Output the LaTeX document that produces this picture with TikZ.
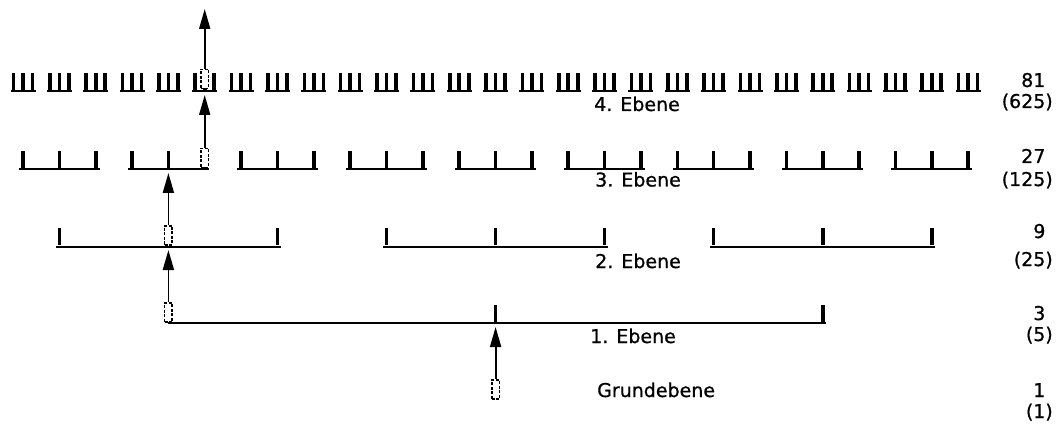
\documentclass[tikz,border=0pt]{standalone}
\usepackage{fontspec}
\setmainfont{DejaVu Sans}
\newfontfamily\scanfont{DejaVu Sans}[FakeBold=0.8]
\usetikzlibrary{arrows.meta,positioning}

\begin{document}
\begin{tikzpicture}[x=1pt,y=-1pt,
  tick/.style={line width=3.6pt},
  base/.style={line width=2pt},
  hit/.style={draw,fill=white,dash pattern=on 3pt off 1.5pt,line width=1.6pt,minimum width=7.5pt,minimum height=19pt,inner sep=0pt},
  up/.style={-{Triangle[length=20pt,width=11pt]},line width=1.8pt},
  lab/.style={font=\scanfont\fontsize{19}{21}\selectfont,anchor=base west,inner sep=0pt},
  num/.style={font=\scanfont\fontsize{19}{21}\selectfont,anchor=base east,inner sep=0pt}]
\useasboundingbox (0,0) rectangle (1059,430);
% 4. Ebene
\foreach \k in {0,...,26}{
  \pgfmathsetmacro\cx{23+36.35*\k}
  \draw[tick] (\cx-9.5,73) -- (\cx-9.5,90) (\cx,73) -- (\cx,90) (\cx+9.5,73) -- (\cx+9.5,90);
  \draw[base] (\cx-12.5,91.5) -- (\cx+12.5,91.5);
}
% 3. Ebene
\foreach \k in {0,...,26}{
  \pgfmathsetmacro\cx{23+36.35*\k}
  \draw[tick] (\cx,151) -- (\cx,168);
}
\foreach \j in {0,...,8}{
  \pgfmathsetmacro\cx{23+36.35*(3*\j+1)}
  \draw[base] (\cx-40.5,169.5) -- (\cx+40.5,169.5);
  \draw[tick] (\cx,228) -- (\cx,245);
}
% 2. Ebene
\foreach \g in {0,1,2}{
  \pgfmathsetmacro\cx{23+36.35*(9*\g+4)}
  \draw[base] (\cx-112.5,247) -- (\cx+112.5,247);
  \draw[tick] (\cx,305) -- (\cx,322);
}
% 1. Ebene
\draw[base] (168.4,323) -- (826,323);

\node[hit] (g0) at (495.6,389.5) {};
\node[hit] (g1) at (168.4,312.5) {};
\node[hit] (g2) at (168.4,235.5) {};
\node[hit] (g3) at (204.7,158) {};
\node[hit] (g4) at (204.7,79) {};
\coordinate (t0) at (495.6,327);
\coordinate (t1) at (168.4,250);
\coordinate (t2) at (168.4,173);
\coordinate (t3) at (204.7,95);
\coordinate (t4) at (204.7,9);
\draw[up] (g0.north) -- (t0);
\draw[up] (g1.north) -- (t1);
\draw[up] (g2.north) -- (t2);
\draw[up] (g3.north) -- (t3);
\draw[up] (g4.north) -- (t4);

\node[lab] (lev4) at (594,111) {4. Ebene};
\node[lab] (lev3) at (595,186.5) {3. Ebene};
\node[lab] (lev2) at (595,268) {2. Ebene};
\node[lab] (lev1) at (590,343) {1. Ebene};
\node[lab] (lev0) at (597,397) {Grundebene};

\node[num] (cnt4) at (1053,87) {81\phantom{)}};
\node[num] (tot4) at (1053,108) {(625)};
\node[num] (cnt3) at (1053,163) {27\phantom{)}};
\node[num] (tot3) at (1053,186) {(125)};
\node[num] (cnt2) at (1053,238) {9\phantom{)}};
\node[num] (tot2) at (1053,266) {(25)};
\node[num] (cnt1) at (1053,320) {3\phantom{)}};
\node[num] (tot1) at (1053,341) {(5)};
\node[num] (cnt0) at (1053,397) {1\phantom{)}};
\node[num] (tot0) at (1053,418) {(1)};
\end{tikzpicture}
\end{document}
